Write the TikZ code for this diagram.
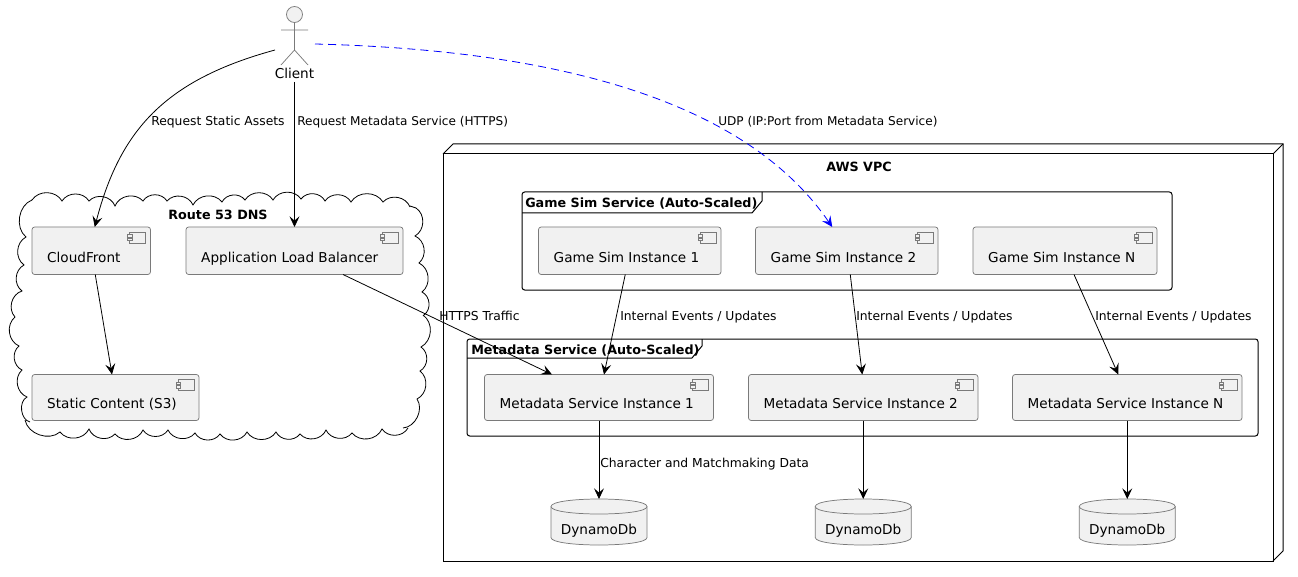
\documentclass[tikz,border=0pt]{standalone}
\usepackage{fontspec}
\setmainfont{DejaVu Sans}
\usetikzlibrary{arrows.meta}
\definecolor{boxfill}{HTML}{F1F1F1}
\definecolor{boxline}{HTML}{7A7A7A}
\newcommand\boxfs{\fontsize{10.2pt}{12pt}\selectfont}
\newcommand\lblfs{\fontsize{9.25pt}{11pt}\selectfont}
\newcommand\lbltight{\fontsize{9.07pt}{11pt}\selectfont}
\newcommand\ttlfs{\fontsize{9.55pt}{12pt}\selectfont\bfseries}
\newcommand\compbox[6]{%
  \pgfmathsetmacro\bW{(#4-#2)*.75}\pgfmathsetmacro\bH{(#5-#3)*.75}%
  \node[comp,minimum width=\bW pt,minimum height=\bH pt] (#1) at ({(#2+#4)/2},{(#3+#5)/2})
    {\smash{\rlap{\hspace*{\dimexpr-\bW pt/2+11.4pt\relax}\raisebox{-8.6pt}{\boxfs #6}}}};
  \draw[icon,shift={(#1.north east)}] (-21,5) rectangle (-5,16);
  \draw[icon,shift={(#1.north east)}] (-23,7.5) rectangle (-18.5,10);
  \draw[icon,shift={(#1.north east)}] (-23,11) rectangle (-18.5,13.5);
}
\newcommand\dbnode[3]{%
  \draw[dbline] (#2-48,#3-15.5) .. controls (#2-48,#3-25.5) and (#2+48,#3-25.5) .. (#2+48,#3-15.5)
     -- (#2+48,#3+15.5) .. controls (#2+48,#3+25.5) and (#2-48,#3+25.5) .. (#2-48,#3+15.5) -- cycle;
  \draw[dbline,fill=none] (#2-48,#3-15.5) .. controls (#2-48,#3-5.5) and (#2+48,#3-5.5) .. (#2+48,#3-15.5);
  \node[dbnodeshape] (#1) at (#2,#3) {\smash{\makebox[0pt]{\raisebox{-9.6pt}{\boxfs DynamoDb}}}};
}
\tikzset{
  comp/.style={draw=boxline,fill=boxfill,line width=.55pt,rounded corners=2pt,inner sep=0pt,outer sep=0pt},
  icon/.style={draw=boxline,line width=.5pt,fill=boxfill},
  dbline/.style={draw=boxline,fill=boxfill,line width=.55pt},
  dbnodeshape/.style={inner sep=0pt,outer sep=0pt,minimum width=72pt,minimum height=34.5pt},
  frameline/.style={draw=black,line width=.75pt,rounded corners=2pt,inner sep=0pt,outer sep=0pt},
  tabline/.style={draw=black,line width=.75pt},
  ttl/.style={inner sep=0pt,font=\ttlfs},
  lbl/.style={inner sep=0pt,anchor=base west,font=\lblfs},
  flow/.style={draw=black,line width=.6pt,-{Stealth[length=8pt,width=7.5pt,inset=3.2pt]}},
  udp/.style={draw=blue,line width=.6pt,dash pattern=on 6pt off 3.9pt,-{Stealth[length=8pt,width=7.5pt,inset=3.2pt]}},
  cb/.style={bend left=58,looseness=1.05},
  cloudline/.style={draw=black,line width=.6pt},
}
\begin{document}
\begin{tikzpicture}[x=.75pt,y=-.75pt]
\useasboundingbox[fill=white] (0,0) rectangle (1298,577);
% AWS VPC node
\node[draw=black,line width=.75pt,inner sep=0pt,outer sep=0pt,minimum width=622.5pt,minimum height=305.25pt] (vpc) at (858,357.5) {};
\draw[tabline] (443,154) -- (453,144) -- (1283,144) -- (1283,551) -- (1273,561);
\draw[tabline] (1273,154) -- (1283,144);
\node[ttl] (vpct) at (859,167) {AWS VPC};
% frames
\node[frameline,minimum width=487.5pt,minimum height=73.5pt] (gamef) at (847,241) {};
\draw[tabline] (522,213) -- (752,213) -- (762,201) -- (762,192);
\node[ttl,anchor=base west] (gamet) at (525,208) {Game Sim Service (Auto-Scaled)};
\node[frameline,minimum width=593.25pt,minimum height=72.75pt] (metaf) at (862.5,387.5) {};
\draw[tabline] (467,358) -- (692,358) -- (702,346) -- (702,339);
\node[ttl,anchor=base west] (metat) at (471,354) {Metadata Service (Auto-Scaled)};
% cloud
\draw[cloudline] (32,200) to[cb] (62,201) to[cb] (89,201) to[cb] (115,206) to[cb] (143,201) to[cb] (167,201)
  to[cb] (193,205) to[cb] (222,202) to[cb] (245,200) to[cb] (273,200) to[cb] (301,199) to[cb] (325,201)
  to[cb] (351,202) to[cb] (383,202) to[cb] (410,207);
\draw[cloudline] (410,206) -- (416,208) to[cb] (415,236) to[cb] (419,263) to[cb] (422,292) to[cb] (424,315);
\draw[cloudline] (423,315) to[cb] (421,347) to[cb] (420,371) to[cb] (417,399) to[bend left=60] (403,428);
\draw[cloudline] (408,428) to[cb] (382,429) to[cb] (352,433) to[cb] (326,430) to[cb] (300,434) to[cb] (276,432)
  to[cb] (247,432) to[cb] (220,434) to[cb] (195,433) to[cb] (168,430) to[cb] (143,430) to[cb] (115,434)
  to[cb] (89,429) to[cb] (60,432) to[bend left=60] (25,420);
\draw[cloudline] (30,422) to[bend left=70] (27,397) to[cb] (22,370) to[cb] (19,346) to[cb] (15,317);
\draw[cloudline] (15,317) to[cb] (22,291) to[cb] (24,265) to[cb] (26,237) to[bend left=60] (32,200);
\node[ttl] (cloudt) at (218,215) {Route 53 DNS};
% actor
\node[draw=boxline,fill=boxfill,circle,line width=.55pt,minimum size=12pt,inner sep=0pt] (head) at (294.5,14.5) {};
\coordinate (hip) at (294.5,50);
\coordinate (armL) at (281,30);
\coordinate (armR) at (308,30);
\coordinate (footL) at (281,65);
\coordinate (footR) at (308,65);
\draw[draw=boxline,line width=.55pt] (head) -- (hip) (armL) -- (armR) (footL) -- (hip) -- (footR);
\node[inner sep=0pt,font=\boxfs] (client) at (294.5,73.5) {Client};
\coordinate (clientW) at (275,50);
\coordinate (clientE) at (315,44);
\coordinate (clientS) at (294.5,82);
% components
\compbox{cf}{32}{227}{150.5}{274.5}{CloudFront}
\compbox{alb}{186}{227}{403}{274.5}{Application Load Balancer}
\compbox{s3}{32}{374.5}{199}{420.5}{Static Content (S3)}
\compbox{g1}{538.5}{227}{721}{274.5}{Game Sim Instance 1}
\compbox{g2}{755.5}{227}{938}{274.5}{Game Sim Instance 2}
\compbox{gn}{973}{227}{1157}{274.5}{Game Sim Instance N}
\compbox{m1}{484.5}{374.5}{713.5}{420.5}{Metadata Service Instance 1}
\compbox{m2}{748.5}{374.5}{978}{420.5}{Metadata Service Instance 2}
\compbox{mn}{1012.5}{374.5}{1242}{420.5}{Metadata Service Instance N}
\dbnode{d1}{599}{522}
\dbnode{d2}{863.25}{522}
\dbnode{d3}{1127.25}{522}
% connectors
\draw[flow] (clientW) .. controls (165,80) and (120,130) .. ([xshift=3.5*.75]cf.north);
\draw[flow] (clientS) -- (alb.north);
\draw[flow] ([xshift=4*.75]cf.south) -- ([xshift=-3.5*.75]s3.north);
\draw[flow] ([xshift=48.5*.75]alb.south) -- ([xshift=-47*.75]m1.north);
\draw[flow] ([xshift=-4.5*.75]g1.south) -- ([xshift=5*.75]m1.north);
\draw[flow] ([xshift=3.5*.75]g2.south) -- ([xshift=-1*.75]m2.north);
\draw[flow] ([xshift=9*.75]gn.south) -- ([xshift=-9*.75]mn.north);
\draw[flow] (m1.south) -- (d1.north);
\draw[flow] (m2.south) -- (d2.north);
\draw[flow] (mn.south) -- (d3.north);
\draw[udp] (clientE) .. controls (556,50) and (745,100) .. ([xshift=-14.5*.75]g2.north);
% labels
\node[lbl] (l1) at (151,126) {Request Static Assets};
\node[lbl,font=\lbltight] (l2) at (297,126) {Request Metadata Service (HTTPS)};
\node[lbl,font=\lbltight] (l3) at (718,126) {UDP (IP:Port from Metadata Service)};
\node[lbl] (l4) at (439,320) {HTTPS Traffic};
\node[lbl] (l5) at (620,320) {Internal Events / Updates};
\node[lbl] (l6) at (856,320) {Internal Events / Updates};
\node[lbl] (l7) at (1095,320) {Internal Events / Updates};
\node[lbl] (l8) at (600,467.5) {Character and Matchmaking Data};
\end{tikzpicture}
\end{document}
